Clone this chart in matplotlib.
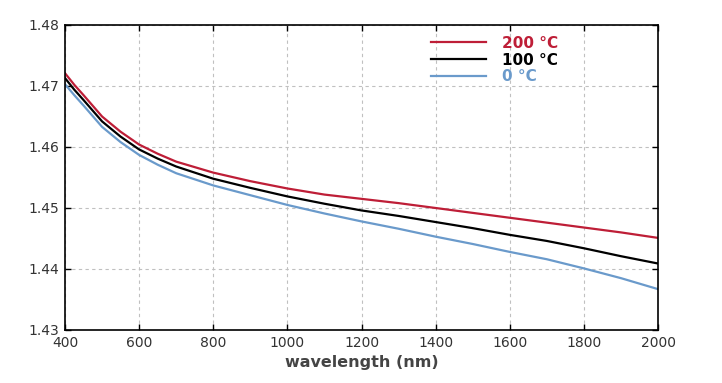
import numpy as np
import matplotlib
matplotlib.use("Agg")
import matplotlib.pyplot as plt

# wavelength grid (nm) and refractive index
wavelength = [400, 425, 450, 500, 550, 600, 650, 700, 800, 900, 1000, 1100, 1200, 1300,
              1400, 1500, 1600, 1700, 1800, 1900, 2000]
n_200 = [1.4721, 1.4702, 1.4685, 1.4650, 1.4625, 1.4604, 1.4589, 1.4576, 1.4558, 1.4544,
         1.4532, 1.4522, 1.4515, 1.4508, 1.4500, 1.4492, 1.4484, 1.4476, 1.4468, 1.4460,
         1.4451]
n_100 = [1.4713, 1.4694, 1.4677, 1.4642, 1.4617, 1.4596, 1.4581, 1.4568, 1.4548, 1.4533,
         1.4519, 1.4507, 1.4496, 1.4487, 1.4477, 1.4467, 1.4456, 1.4446, 1.4434, 1.4421,
         1.4409]
n_0 = [1.4703, 1.4685, 1.4668, 1.4633, 1.4608, 1.4587, 1.4571, 1.4557, 1.4537, 1.4521,
       1.4505, 1.4491, 1.4478, 1.4466, 1.4453, 1.4441, 1.4428, 1.4416, 1.4401, 1.4385,
       1.4367]

labels = ["200 °C", "100 °C", "0 °C"]
colors = ["#be1e37", "#000000", "#6a9acb"]

xticks = [400, 600, 800, 1000, 1200, 1400, 1600, 1800, 2000]
yticks = [1.43, 1.44, 1.45, 1.46, 1.47, 1.48]

fig = plt.figure(figsize=(7.22, 3.83), dpi=100)
ax = fig.add_axes([65 / 722, 1 - 330 / 383, 593 / 722, 305 / 383])

for y, lab, c in zip([n_200, n_100, n_0], labels, colors):
    ax.plot(wavelength, y, color=c, lw=1.6, label=lab)

ax.set_xlim(400, 2000)
ax.set_ylim(1.43, 1.48)
ax.set_xticks(xticks)
ax.set_yticks(yticks)
ax.set_yticklabels([f"{v:.2f}" for v in yticks])
ax.grid(True, color="#c0c0c0", ls=(0, (3, 3)), lw=0.8)
ax.tick_params(direction="in", top=True, right=True, length=4, width=1,
               labelsize=10, labelcolor="#333333", pad=4)
for s in ax.spines.values():
    s.set_linewidth(1.2)

ax.set_xlabel("wavelength (nm)", fontsize=11.5, fontweight="bold", color="#444444", labelpad=4)

leg = ax.legend(loc="upper left", bbox_to_anchor=(0.6, 1.0), frameon=False,
                handlelength=3.6, handletextpad=1.0, labelspacing=0.12,
                borderaxespad=0.3, prop={"weight": "bold", "size": 11},
                labelcolor="linecolor")

fig.savefig("out.png", dpi=100)
